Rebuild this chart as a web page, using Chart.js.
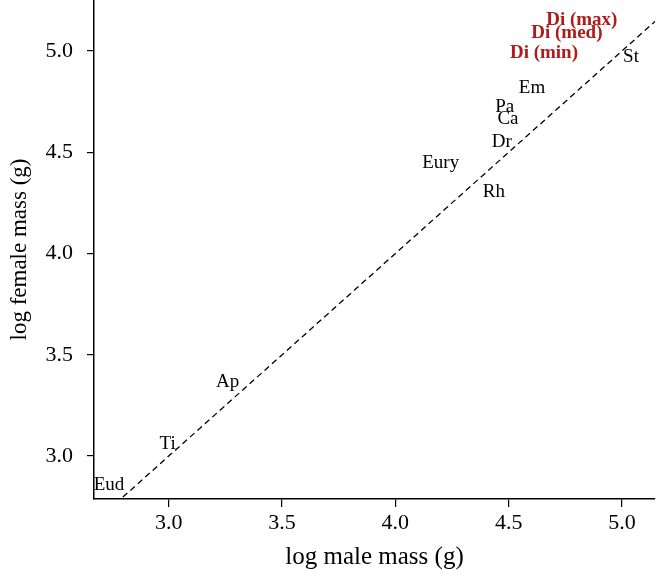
<!DOCTYPE html>
<html lang="en">
<head>
<meta charset="UTF-8">
<title>log female mass vs log male mass</title>
<script src="https://cdn.jsdelivr.net/npm/chart.js@4"></script>
<style>
  body { margin:0; background:#ffffff; }
</style>
</head>
<body>
<canvas id="mass_chart" width="657" height="576"></canvas>
<script>
// taxa labels, plotted at (log male mass, log female mass)
const taxa = ['Eud', 'Ti', 'Ap', 'Eury', 'Rh', 'Dr', 'Ca', 'Pa', 'Em', 'St', 'Di (min)', 'Di (med)', 'Di (max)'];
const maleMass = [2.736, 2.995, 3.26, 4.20, 4.435, 4.47, 4.497, 4.483, 4.603, 5.04, 4.656, 4.757, 4.823];
const femaleMass = [2.857, 3.06, 3.365, 4.447, 4.304, 4.55, 4.664, 4.723, 4.817, 4.97, 4.99, 5.089, 5.153];
const highlight = ['Di (min)', 'Di (med)', 'Di (max)'];
const tickValues = [3.0, 3.5, 4.0, 4.5, 5.0];
const oneToOne = [2.6, 5.3];

const serif = 'Liberation Serif';

// draws each taxon name centred on its point
const textLabels = {
  id: 'textLabels',
  afterDatasetsDraw(chart) {
    const ctx = chart.ctx;
    const xs = chart.scales.x, ys = chart.scales.y;
    ctx.save();
    ctx.textAlign = 'center';
    ctx.textBaseline = 'middle';
    for (let i = 0; i < taxa.length; i++) {
      const red = highlight.includes(taxa[i]);
      ctx.font = (red ? 'bold ' : '') + '19px "' + serif + '"';
      ctx.fillStyle = red ? '#ad1b1b' : '#000000';
      ctx.fillText(taxa[i], xs.getPixelForValue(maleMass[i]), ys.getPixelForValue(femaleMass[i]));
    }
    ctx.restore();
  }
};

const fixedTicks = function(scale) {
  scale.ticks = tickValues.map(v => ({ value: v }));
};

const ctx = document.getElementById('mass_chart').getContext('2d');
new Chart(ctx, {
  type: 'scatter',
  data: {
    datasets: [{
      label: 'taxa',
      data: maleMass.map((x, i) => ({ x: x, y: femaleMass[i] })),
      pointRadius: 0,
      pointHoverRadius: 0
    }, {
      label: '1:1',
      type: 'line',
      data: oneToOne.map(v => ({ x: v, y: v })),
      borderColor: '#000000',
      borderWidth: 1.3,
      borderDash: [6, 4],
      pointRadius: 0,
      fill: false
    }]
  },
  options: {
    responsive: false,
    animation: false,
    events: [],
    layout: { padding: { top: 0, right: 2, left: 0, bottom: 0 } },
    plugins: { legend: { display: false }, tooltip: { enabled: false } },
    scales: {
      x: {
        type: 'linear',
        min: 2.67,
        max: 5.146,
        afterBuildTicks: fixedTicks,
        afterFit: s => { s.height = 77; s.paddingLeft = 0; s.paddingRight = 0; },
        border: { display: true, color: '#000000', width: 1.5 },
        grid: { drawOnChartArea: false, color: '#000000', tickLength: 8, lineWidth: 1.2 },
        ticks: {
          color: '#000000',
          padding: 3,
          font: { family: serif, size: 22 },
          callback: v => Number(v).toFixed(1)
        },
        title: {
          display: true,
          text: 'log male mass (g)',
          color: '#000000',
          font: { family: serif, size: 25 },
          padding: { top: 0, bottom: 4 }
        }
      },
      y: {
        type: 'linear',
        min: 2.788,
        max: 5.252,
        afterBuildTicks: fixedTicks,
        afterFit: s => { s.width = 94; s.paddingTop = 0; s.paddingBottom = 0; },
        border: { display: true, color: '#000000', width: 1.5 },
        grid: { drawOnChartArea: false, color: '#000000', tickLength: 7, lineWidth: 1.2 },
        ticks: {
          color: '#000000',
          padding: 14,
          font: { family: serif, size: 22 },
          callback: v => Number(v).toFixed(1)
        },
        title: {
          display: true,
          text: 'log female mass (g)',
          color: '#000000',
          font: { family: serif, size: 23 },
          padding: { top: 6, bottom: 0 }
        }
      }
    }
  },
  plugins: [textLabels]
});
</script>
</body>
</html>
